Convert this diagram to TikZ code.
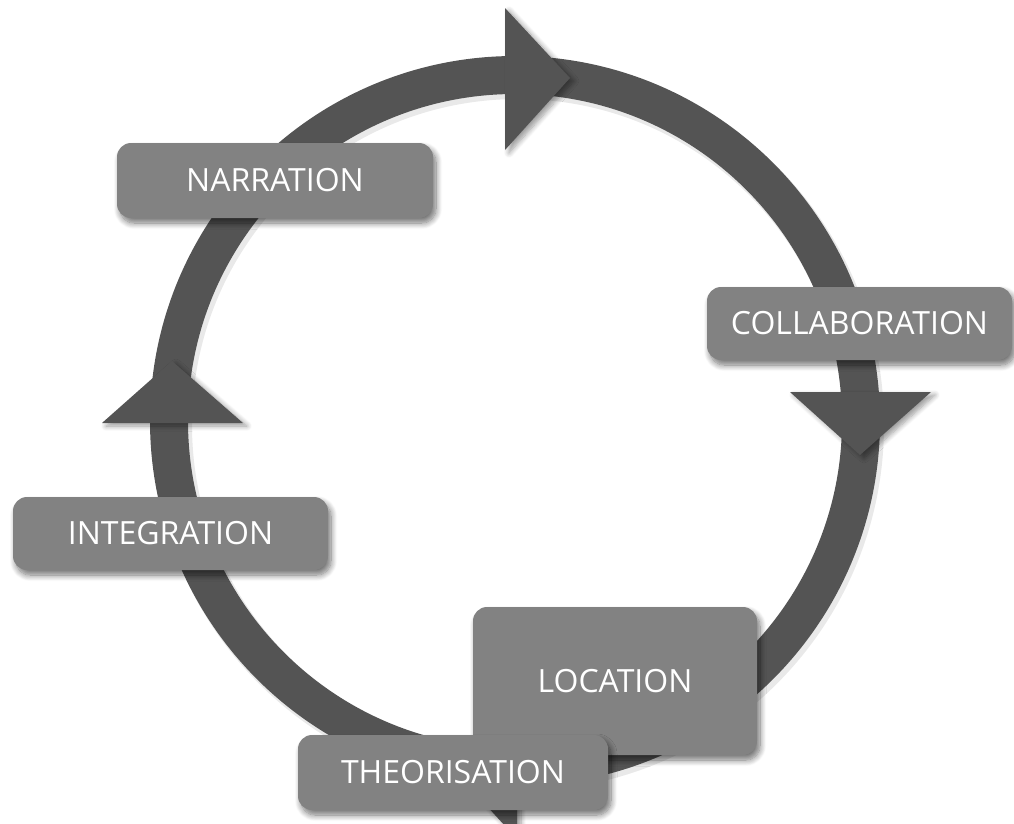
\documentclass[tikz,border=0pt]{standalone}
\usepackage{fontspec}
\setmainfont{Open Sans}
\usetikzlibrary{calc,shadows.blur}

\definecolor{ringgray}{HTML}{545454}
\definecolor{boxgray}{HTML}{828282}

\tikzset{
  stage/.style={
    fill=boxgray, rounded corners=14pt, text=white,
    font=\fontsize{32}{38}\selectfont, inner sep=0pt,
    blur shadow={shadow xshift=3pt, shadow yshift=-5pt,
                 shadow blur radius=6pt, shadow blur steps=10, shadow opacity=55}
  },
  headshape/.style={fill=ringgray,
    blur shadow={shadow xshift=4pt, shadow yshift=-3pt,
                 shadow blur radius=5pt, shadow blur steps=8, shadow opacity=40}},
  ringline/.style={draw=ringgray, line width=38pt}
}

\begin{document}
\begin{tikzpicture}[x=1pt, y=-1pt]
  \useasboundingbox (0,0) rectangle (1014,823);
  \clip (0,0) rectangle (1014,823);

  \coordinate (c) at (515,421);

  % soft shadow under the cycle ring
  \draw[line width=40pt, black!25, opacity=0.35] ($(c)+(3,4)$) circle[radius=346];
  % the cycle ring
  \draw[ringline] (c) circle[radius=346];

  % direction heads on the ring (clockwise)
  \fill[headshape] (505,8) -- (570,78) -- (505,150) -- cycle;        % top, right
  \fill[headshape] (790,392) -- (931,392) -- (860,455) -- cycle;     % right, down
  \fill[headshape] (517,697) -- (517,839) -- (452,768) -- cycle;     % bottom, left
  \fill[headshape] (102,423) -- (243,423) -- (172,361) -- cycle;     % left, up

  % stage labels
  \node[stage, minimum width=316pt, minimum height=75pt] (narration) at (275,180.5) {NARRATION};
  \node[stage, minimum width=305pt, minimum height=73pt] (collaboration) at (859.5,323.5) {COLLABORATION};
  \node[stage, minimum width=315pt, minimum height=73pt] (integration) at (170.5,533.5) {INTEGRATION};
  \node[stage, minimum width=284pt, minimum height=148pt] (location) at (615,681) {LOCATION};
  \node[stage, minimum width=310pt, minimum height=75pt] (theorisation) at (453,772.5) {THEORISATION};
\end{tikzpicture}
\end{document}
